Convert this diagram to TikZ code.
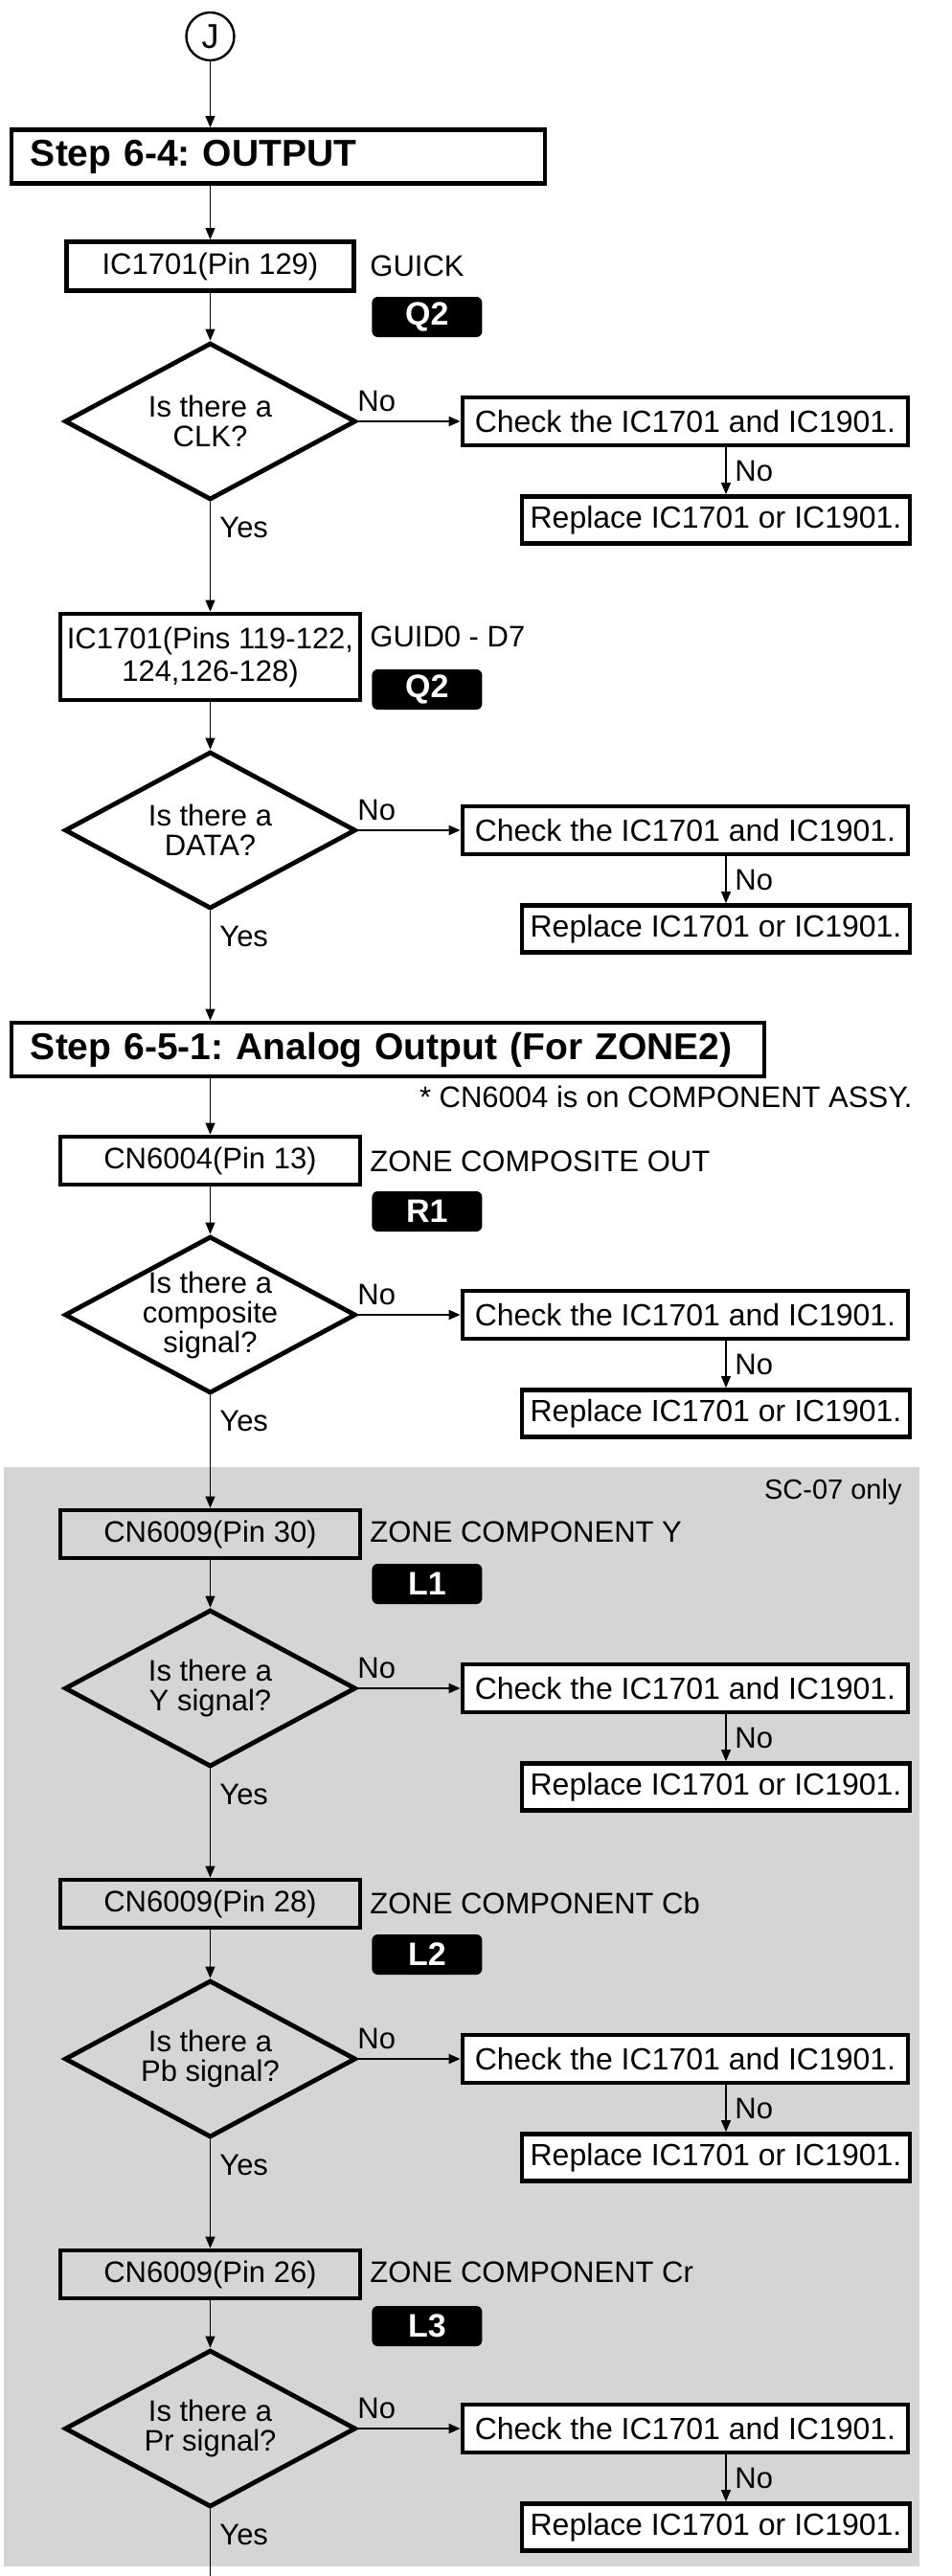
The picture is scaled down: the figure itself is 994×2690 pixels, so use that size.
\documentclass[tikz,border=0pt]{standalone}
\usepackage{fontspec}
\setmainfont{Liberation Sans}
\usetikzlibrary{shapes.geometric,arrows.meta}
\definecolor{scgray}{RGB}{213,213,213}
\frenchspacing

\begin{document}
\begin{tikzpicture}[
        x=0.5pt, y=-0.5pt,
        every node/.style={font=\fontsize{15.5}{17}\selectfont, inner sep=0pt},
        stepbox/.style={draw, line width=2.4pt, minimum height=28pt, text width=#1,
            align=left, inner xsep=10pt, font=\fontsize{19.5}{20}\selectfont\bfseries},
        pinbox/.style={draw, line width=2.4pt, minimum width=156.5pt, minimum height=25pt, align=center},
        checkbox/.style={draw, line width=2.4pt, fill=white, minimum width=232.5pt, minimum height=25pt,
            font=\fontsize{16}{17}\selectfont},
        replbox/.style={draw, line width=2.4pt, fill=white, minimum width=202.5pt, minimum height=24.5pt,
            font=\fontsize{16}{17}\selectfont},
        decision/.style={diamond, draw, line width=2.4pt, minimum width=152pt, minimum height=82pt,
            label={[align=center, font=\fontsize{15.5}{15.5}\selectfont]center:#1}},
        badge/.style={anchor=west, fill=black, rounded corners=3pt, text=white,
            minimum width=57.5pt, minimum height=21pt, font=\fontsize{17}{17}\selectfont\bfseries},
        arr/.style={line width=0.6pt, -{Triangle[length=6pt,width=5pt]}}
    ]
        \useasboundingbox (0,0) rectangle (994,2690);
        % SC-07 only area
        \fill[scgray] (4,1532) rectangle (960,2680);
        \node[anchor=east, font=\fontsize{14.5}{15}\selectfont] (sc) at (942,1558) {SC-07 only};
        % Start
        \node[circle, draw, line width=1.2pt, minimum size=25pt, font=\fontsize{18}{18}\selectfont] (J) at (219.5,38) {J};
        % Steps
        \node[stepbox=258.5pt] (s64) at (290.5,163.5) {Step 6-4: OUTPUT};
        \node[stepbox=373pt] (s651) at (405,1096) {Step 6-5-1: Analog Output (For ZONE2)};
        \node[anchor=east] (assy) at (953,1145) {* CN6004 is on COMPONENT ASSY.};
        % Test points
        \node[pinbox, minimum width=150pt, minimum height=25.5pt] (b1) at (219.5,278) {IC1701(Pin 129)};
        \node[pinbox, minimum height=45pt] (b2) at (219.5,686) {IC1701(Pins 119-122,\\124,126-128)};
        \node[pinbox] (b3) at (219.5,1212) {CN6004(Pin 13)};
        \node[pinbox] (b4) at (219.5,1602) {CN6009(Pin 30)};
        \node[pinbox] (b5) at (219.5,1988) {CN6009(Pin 28)};
        \node[pinbox] (b6) at (219.5,2375) {CN6009(Pin 26)};
        % Signal names
        \node[anchor=west] (t1) at (386,278) {GUICK};
        \node[anchor=west] (t2) at (386,665) {GUID0 - D7};
        \node[anchor=west] (t3) at (386,1213) {ZONE COMPOSITE OUT};
        \node[anchor=west] (t4) at (386,1600) {ZONE COMPONENT Y};
        \node[anchor=west] (t5) at (386,1987) {ZONE COMPONENT Cb};
        \node[anchor=west] (t6) at (386,2373) {ZONE COMPONENT Cr};
        % Waveform marks
        \node[badge] (q1) at (388,331) {Q2};
        \node[badge] (q2) at (388,720) {Q2};
        \node[badge] (r1) at (388,1265) {R1};
        \node[badge] (l1) at (388,1654) {L1};
        \node[badge] (l2) at (388,2041) {L2};
        \node[badge] (l3) at (388,2429) {L3};
        % Decisions
        \node[decision={Is there a\\CLK?}] (d1) at (219.5,440) {};
        \node[decision={Is there a\\DATA?}] (d2) at (219.5,867) {};
        \node[decision={Is there a\\composite\\signal?}] (d3) at (219.5,1373) {};
        \node[decision={Is there a\\Y signal?}] (d4) at (219.5,1763) {};
        \node[decision={Is there a\\Pb signal?}] (d5) at (219.5,2150) {};
        \node[decision={Is there a\\Pr signal?}] (d6) at (219.5,2536) {};
        \coordinate (end) at (219.5,2690);
        % Main column
        \draw[arr] (J) -- (J |- s64.north);
        \draw[arr] (J |- s64.south) -- (b1);
        \draw[arr] (b1) -- (d1);
        \draw[arr] (d1) -- (b2);
        \draw[arr] (b2) -- (d2);
        \draw[arr] (d2) -- (d2 |- s651.north);
        \draw[arr] (d2 |- s651.south) -- (b3);
        \draw[arr] (b3) -- (d3);
        \draw[arr] (d3) -- (b4);
        \draw[arr] (b4) -- (d4);
        \draw[arr] (d4) -- (b5);
        \draw[arr] (b5) -- (d5);
        \draw[arr] (d5) -- (b6);
        \draw[arr] (b6) -- (d6);
        \draw[line width=0.6pt] (d6) -- (end);
        % No branches
        \foreach \i/\y in {1/440, 2/867, 3/1373, 4/1763, 5/2150, 6/2536}{
            \node[checkbox] (c\i) at (715.5,\y) {Check the IC1701 and IC1901.};
            \node[replbox] (r\i) at (747.5,\y+103) {Replace IC1701 or IC1901.};
            \draw[arr, line width=1pt] (d\i.east) -- (c\i.west);
            \draw[arr] ([xshift=21.25pt]c\i.south) -- ([xshift=21.25pt]c\i.south |- r\i.north);
            \node[anchor=west] (n\i) at (373,\y-21) {No};
            \node[anchor=west] (m\i) at (767,\y+52) {No};
            \node[anchor=west] (y\i) at (229,\y+111) {Yes};
        }
    \end{tikzpicture}
\end{document}
